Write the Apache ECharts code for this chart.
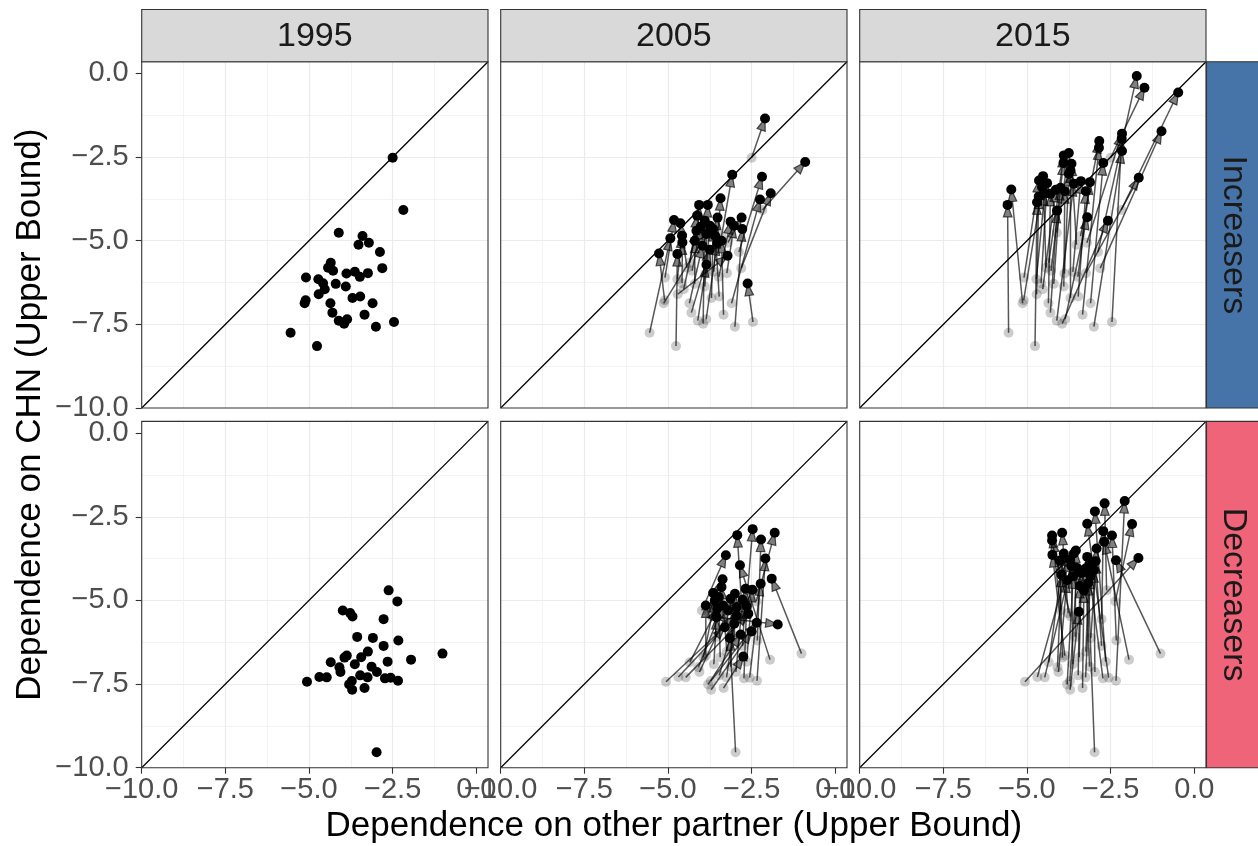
<!DOCTYPE html>
<html>
<head>
<meta charset="utf-8">
<script src="https://cdn.jsdelivr.net/npm/echarts@6/dist/echarts.min.js"></script>
<style>
  html, body { margin: 0; padding: 0; background: #ffffff; }
  #main { width: 1258px; height: 846px; }
</style>
</head>
<body>
<div id="main"></div>
<script>
// ---- facet labels ----
const years = ['1995', '2005', '2015'];
const groupNames = ['Increasers', 'Decreasers'];

// ---- axis ticks ----
const tickValues = [-10, -7.5, -5, -2.5, 0];
const axisMin = -10;
const axisMax = 0.35;
const axisStep = 2.5;

// ---- Increasers: position in 1995, 2005, 2015 ----
const incX1995 = [-2.50, -2.18, -4.11, -3.40, -3.52, -3.21, -2.88, -4.35, -4.43, -4.28, -2.81, -5.09, -4.72, -4.58, -4.20, -3.88, -3.63, -3.48, -3.24, -3.90, -4.53, -4.71, -5.10, -5.13, -4.36, -3.70, -3.47, -3.10, -4.30, -3.34, -4.11, -3.86, -3.95, -3.00, -2.46, -5.55, -4.76];
const incY1995 = [-2.52, -4.08, -4.76, -4.86, -5.12, -5.06, -5.34, -5.66, -5.81, -5.90, -5.82, -6.10, -6.15, -6.27, -6.29, -5.98, -5.93, -6.08, -5.97, -6.37, -6.45, -6.60, -6.78, -6.87, -6.87, -6.71, -6.67, -6.87, -7.15, -7.21, -7.39, -7.35, -7.48, -7.57, -7.43, -7.75, -8.15];
const incX2005 = [-2.10, -0.90, -4.07, -3.08, -3.43, -2.80, -2.19, -4.13, -4.63, -4.02, -1.93, -4.82, -4.58, -4.57, -4.20, -3.81, -3.52, -3.13, -3.03, -3.75, -4.15, -3.22, -5.27, -3.85, -3.97, -3.65, -3.58, -2.25, -3.75, -3.40, -3.85, -3.53, -3.90, -2.78, -2.62, -4.93, -4.72];
const incY2005 = [-1.35, -2.65, -3.93, -3.03, -3.73, -4.31, -3.09, -4.25, -4.48, -4.58, -3.58, -4.38, -4.85, -5.05, -5.00, -3.93, -4.31, -4.43, -4.55, -4.55, -4.70, -5.45, -5.38, -4.80, -5.15, -4.65, -4.87, -3.77, -5.27, -5.00, -5.72, -5.07, -4.40, -4.65, -6.28, -4.93, -5.40];
const incX2015 = [-1.49, -0.48, -3.75, -2.84, -3.67, -2.16, -1.72, -3.90, -4.52, -3.91, -0.98, -4.64, -4.47, -4.40, -4.00, -3.75, -3.39, -3.12, -1.66, -3.87, -4.14, -4.65, -4.55, -5.47, -4.30, -3.70, -3.24, -2.72, -4.10, -2.85, -3.60, -3.20, -2.58, -2.16, -2.17, -5.58, -4.70];
const incY2015 = [-0.43, -0.57, -2.38, -2.02, -2.70, -1.80, -0.08, -2.45, -3.07, -2.67, -1.73, -3.20, -3.58, -3.28, -3.42, -3.00, -3.22, -3.25, -3.12, -3.52, -3.48, -3.68, -3.40, -3.47, -3.60, -2.90, -3.52, -2.68, -4.10, -2.22, -3.30, -4.30, -4.40, -2.32, -1.95, -3.93, -3.85];

// ---- Decreasers: position in 1995, 2005, 2015 ----
const decX1995 = [-2.62, -2.36, -3.99, -3.77, -3.70, -2.77, -3.56, -3.09, -2.33, -2.77, -1.01, -3.24, -3.44, -3.87, -3.94, -4.35, -1.95, -2.65, -3.63, -4.09, -4.06, -3.13, -2.97, -3.47, -3.25, -2.73, -2.56, -2.34, -5.06, -4.69, -4.47, -3.80, -3.72, -3.71, -3.34, -2.98];
const decY1995 = [-4.70, -5.03, -5.30, -5.38, -5.48, -5.56, -6.09, -6.12, -6.20, -6.36, -6.59, -6.53, -6.70, -6.65, -6.71, -6.85, -6.77, -6.83, -6.91, -7.00, -7.14, -6.98, -7.14, -7.24, -7.30, -7.33, -7.31, -7.40, -7.43, -7.29, -7.30, -7.51, -7.41, -7.67, -7.62, -9.54];
const decX2005 = [-2.47, -1.81, -3.27, -3.37, -1.72, -2.93, -3.65, -3.13, -2.22, -2.68, -1.90, -3.40, -3.48, -3.87, -3.60, -3.53, -2.85, -2.48, -3.55, -3.35, -3.20, -3.00, -2.77, -3.02, -2.95, -2.65, -2.23, -2.09, -2.95, -3.30, -2.60, -2.83, -2.35, -2.50, -2.75, -3.15];
const decY2005 = [-2.87, -2.98, -3.65, -4.37, -5.72, -3.05, -4.78, -4.95, -3.18, -4.65, -4.35, -4.60, -4.90, -5.15, -5.00, -5.25, -3.95, -4.68, -5.50, -5.15, -5.30, -4.80, -4.98, -5.70, -5.20, -5.17, -4.50, -3.75, -5.45, -5.80, -5.40, -6.02, -5.67, -5.93, -6.68, -6.13];
const decX2015 = [-2.68, -1.86, -4.25, -3.95, -4.25, -2.72, -3.54, -2.92, -2.46, -2.95, -2.34, -3.14, -3.37, -4.24, -4.02, -3.90, -2.69, -2.97, -3.67, -3.97, -3.80, -3.25, -3.00, -3.42, -3.10, -3.20, -3.20, -2.08, -1.67, -3.72, -3.60, -3.62, -3.50, -3.45, -3.30, -3.17];
const decY2015 = [-2.10, -2.72, -3.06, -2.98, -3.21, -2.93, -3.51, -3.45, -3.06, -3.83, -3.80, -3.93, -4.18, -3.64, -3.81, -3.60, -3.25, -2.34, -3.98, -4.23, -4.40, -4.05, -4.10, -4.56, -4.28, -3.70, -2.71, -2.03, -3.73, -3.78, -3.60, -4.28, -4.03, -5.34, -4.70, -4.48];

const groupData = [
  { x: { '1995': incX1995, '2005': incX2005, '2015': incX2015 },
    y: { '1995': incY1995, '2005': incY2005, '2015': incY2015 } },
  { x: { '1995': decX1995, '2005': decX2005, '2015': decX2015 },
    y: { '1995': decY1995, '2005': decY2005, '2015': decY2015 } }
];

// ---- layout ----
const colLeft = [141.7, 500.7, 859.7];
const rowTop = [61.7, 421.4];
const panelW = 346.3;
const panelH = 346.3;
const stripTop = 9.5;
const stripRightX = 1206.5;
const stripColors = ['#4774a8', '#ef6479'];
const FONT = '"Liberation Sans", Arial, Helvetica, sans-serif';
const BORDER = '#333333';

// arrow look
const ARROW_LEN = 12;
const ARROW_HALF_W = 4.3;
const SEG_COLOR = 'rgba(0,0,0,0.66)';
const HEAD_COLOR = 'rgba(0,0,0,0.5)';

const fmt = v => (v < 0 ? '\u2212' : '') + Math.abs(v).toFixed(1);
const pairs = (xs, ys) => xs.map((x, i) => [x, ys[i]]);

// segment from the 1995 position to the later position, closed arrow head at the end
function renderArrow(params, api) {
  const p0 = api.coord([api.value(0), api.value(1)]);
  const p1 = api.coord([api.value(2), api.value(3)]);
  const dx = p1[0] - p0[0], dy = p1[1] - p0[1];
  const len = Math.hypot(dx, dy) || 1;
  const ux = dx / len, uy = dy / len;
  const hl = Math.min(ARROW_LEN, len);
  const bx = p1[0] - ux * hl, by = p1[1] - uy * hl;
  return {
    type: 'group',
    children: [
      { type: 'line', shape: { x1: p0[0], y1: p0[1], x2: bx, y2: by },
        style: { stroke: SEG_COLOR, lineWidth: 1.5 } },
      { type: 'polygon',
        shape: { points: [[p1[0], p1[1]], [bx - uy * ARROW_HALF_W, by + ux * ARROW_HALF_W], [bx + uy * ARROW_HALF_W, by - ux * ARROW_HALF_W]] },
        style: { fill: HEAD_COLOR, stroke: SEG_COLOR, lineWidth: 1.2, lineJoin: 'miter' } }
    ]
  };
}

const grids = [], xAxes = [], yAxes = [], series = [];

function axisCommon(showLabels, margin) {
  return {
    type: 'value', min: axisMin, max: axisMax, interval: axisStep,
    axisLine: { show: false, onZero: false },
    splitLine: { show: true, showMinLine: false, showMaxLine: false,
                 lineStyle: { color: '#ebebeb', width: 1.2 } },
    minorTick: { show: false, splitNumber: 2 },
    minorSplitLine: { show: true, lineStyle: { color: '#ebebeb', width: 0.6 } },
    axisTick: { show: showLabels, customValues: tickValues, length: 6,
                lineStyle: { color: BORDER, width: 1.1 } },
    axisLabel: { show: showLabels, customValues: tickValues, formatter: fmt, fontSize: 29,
                 color: '#4d4d4d', fontFamily: FONT, margin: margin,
                 showMinLabel: true, showMaxLabel: true }
  };
}

for (let r = 0; r < 2; r++) {
  for (let c = 0; c < 3; c++) {
    const gi = r * 3 + c;
    grids.push({ left: colLeft[c], top: rowTop[r], width: panelW, height: panelH,
                 show: false, containLabel: false });
    xAxes.push(Object.assign({ gridIndex: gi, position: 'bottom' }, axisCommon(r === 1, 8)));
    yAxes.push(Object.assign({ gridIndex: gi, position: 'left' }, axisCommon(c === 0, 13)));

    // 45-degree reference line
    series.push({
      type: 'line', xAxisIndex: gi, yAxisIndex: gi, z: 2, silent: true,
      data: [[axisMin, axisMin], [axisMax, axisMax]],
      showSymbol: false, symbol: 'none',
      lineStyle: { color: '#000000', width: 1.3 }
    });

    const g = groupData[r];
    const start = pairs(g.x['1995'], g.y['1995']);
    if (c === 0) {
      series.push({
        type: 'scatter', xAxisIndex: gi, yAxisIndex: gi, z: 5, silent: true,
        data: start, symbolSize: 10, itemStyle: { color: '#000000', opacity: 1 }
      });
    } else {
      const yr = years[c];
      const end = pairs(g.x[yr], g.y[yr]);
      series.push({
        type: 'scatter', xAxisIndex: gi, yAxisIndex: gi, z: 3, silent: true,
        data: start, symbolSize: 10, itemStyle: { color: 'rgba(0,0,0,0.25)' }
      });
      series.push({
        type: 'custom', xAxisIndex: gi, yAxisIndex: gi, z: 4, silent: true,
        renderItem: renderArrow,
        encode: { x: [0, 2], y: [1, 3] },
        data: start.map((p, i) => [p[0], p[1], end[i][0], end[i][1]])
      });
      series.push({
        type: 'scatter', xAxisIndex: gi, yAxisIndex: gi, z: 5, silent: true,
        data: end, symbolSize: 10, itemStyle: { color: '#000000', opacity: 1 }
      });
    }
  }
}

// ---- panel borders, facet strips and axis titles ----
const graphics = [];
for (let r = 0; r < 2; r++) {
  for (let c = 0; c < 3; c++) {
    graphics.push({
      type: 'rect', silent: true, z: 50,
      shape: { x: colLeft[c], y: rowTop[r], width: panelW, height: panelH },
      style: { fill: 'none', stroke: BORDER, lineWidth: 1.1 }
    });
  }
}
years.forEach((yr, c) => {
  graphics.push({
    type: 'rect', silent: true, z: 50,
    shape: { x: colLeft[c], y: stripTop, width: panelW, height: rowTop[0] - stripTop },
    style: { fill: '#d9d9d9', stroke: BORDER, lineWidth: 1.1 }
  });
  graphics.push({
    type: 'text', silent: true, z: 51, x: colLeft[c] + panelW / 2, y: (stripTop + rowTop[0]) / 2 + 1,
    style: { text: yr, fill: '#1a1a1a', font: '34px ' + FONT, align: 'center', verticalAlign: 'middle' }
  });
});
groupNames.forEach((name, r) => {
  graphics.push({
    type: 'rect', silent: true, z: 50,
    shape: { x: stripRightX, y: rowTop[r], width: 54, height: panelH },
    style: { fill: stripColors[r], stroke: BORDER, lineWidth: 1.1 }
  });
  graphics.push({
    type: 'text', silent: true, z: 51, x: stripRightX + 27, y: rowTop[r] + panelH / 2,
    rotation: -Math.PI / 2,
    style: { text: name, fill: '#1a1a1a', font: '34px ' + FONT, align: 'center', verticalAlign: 'middle' }
  });
});
graphics.push({
  type: 'text', silent: true, x: (colLeft[0] + colLeft[2] + panelW) / 2, y: 826,
  style: { text: 'Dependence on other partner (Upper Bound)', fill: '#000000',
           font: '35px ' + FONT, align: 'center', verticalAlign: 'middle' }
});
graphics.push({
  type: 'text', silent: true, x: 30, y: (rowTop[0] + rowTop[1] + panelH) / 2,
  rotation: Math.PI / 2,
  style: { text: 'Dependence on CHN (Upper Bound)', fill: '#000000',
           font: '35px ' + FONT, align: 'center', verticalAlign: 'middle' }
});

const chart = echarts.init(document.getElementById('main'), null, { renderer: 'canvas' });
chart.setOption({
  animation: false,
  backgroundColor: '#ffffff',
  textStyle: { fontFamily: FONT },
  grid: grids,
  xAxis: xAxes,
  yAxis: yAxes,
  series: series,
  graphic: graphics
});
</script>
</body>
</html>
